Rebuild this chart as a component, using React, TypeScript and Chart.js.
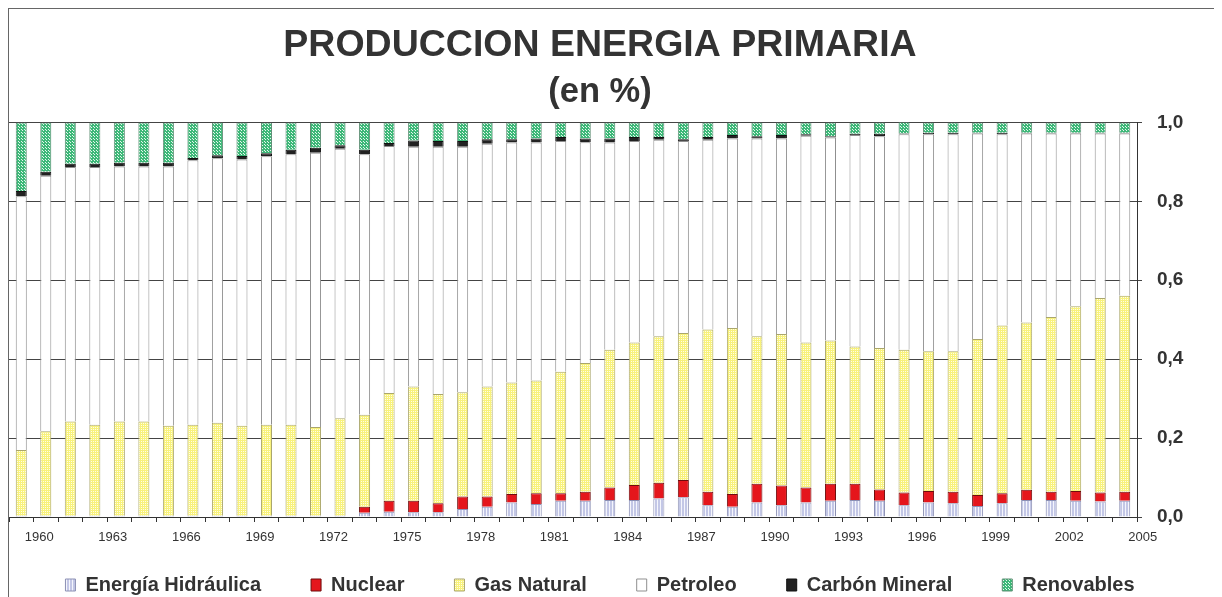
import React, { useEffect, useRef } from 'react';
import { Chart, registerables } from 'chart.js';

Chart.register(...registerables);

const FONT = "'Liberation Sans', Arial, sans-serif";

const years = [
  '1960', '1961', '1962', '1963', '1964', '1965', '1966', '1967', '1968', '1969',
  '1970', '1971', '1972', '1973', '1974', '1975', '1976', '1977', '1978', '1979',
  '1980', '1981', '1982', '1983', '1984', '1985', '1986', '1987', '1988', '1989',
  '1990', '1991', '1992', '1993', '1994', '1995', '1996', '1997', '1998', '1999',
  '2000', '2001', '2002', '2003', '2004', '2005',
];

const shownYears = ['1960', '1963', '1966', '1969', '1972', '1975', '1978', '1981', '1984', '1987', '1990', '1993', '1996', '1999', '2002', '2005'];

const hidraulica = [
  0.003, 0.003, 0.003, 0.003, 0.003, 0.003, 0.003, 0.003, 0.003, 0.003,
  0.003, 0.003, 0.003, 0.003, 0.011, 0.013, 0.012, 0.012, 0.020, 0.026,
  0.037, 0.033, 0.041, 0.041, 0.043, 0.043, 0.047, 0.050, 0.030, 0.026,
  0.037, 0.030, 0.037, 0.041, 0.043, 0.041, 0.030, 0.037, 0.035, 0.028,
  0.035, 0.043, 0.043, 0.041, 0.039, 0.041,
];

const nuclear = [
  0, 0, 0, 0, 0, 0, 0, 0, 0, 0,
  0, 0, 0, 0, 0.015, 0.028, 0.029, 0.023, 0.032, 0.026,
  0.021, 0.027, 0.019, 0.023, 0.032, 0.038, 0.040, 0.044, 0.034, 0.032,
  0.047, 0.050, 0.038, 0.043, 0.041, 0.029, 0.032, 0.029, 0.029, 0.028,
  0.025, 0.026, 0.021, 0.025, 0.023, 0.023,
];

const gasNatural = [
  0.167, 0.214, 0.239, 0.231, 0.239, 0.239, 0.228, 0.231, 0.236, 0.228,
  0.231, 0.231, 0.225, 0.247, 0.233, 0.273, 0.290, 0.277, 0.264, 0.279,
  0.283, 0.286, 0.308, 0.326, 0.349, 0.361, 0.371, 0.372, 0.411, 0.421,
  0.374, 0.384, 0.367, 0.363, 0.348, 0.358, 0.362, 0.354, 0.356, 0.395,
  0.425, 0.424, 0.443, 0.468, 0.493, 0.497,
];

const petroleo = [
  0.643, 0.648, 0.645, 0.653, 0.646, 0.646, 0.657, 0.670, 0.670, 0.675,
  0.680, 0.685, 0.695, 0.683, 0.660, 0.626, 0.607, 0.626, 0.622, 0.615,
  0.608, 0.603, 0.585, 0.560, 0.525, 0.511, 0.498, 0.487, 0.481, 0.480,
  0.501, 0.495, 0.524, 0.515, 0.536, 0.537, 0.546, 0.550, 0.550, 0.521,
  0.485, 0.479, 0.465, 0.438, 0.417, 0.411,
];

const carbonMineral = [
  0.013, 0.010, 0.008, 0.008, 0.010, 0.010, 0.010, 0.006, 0.008, 0.009,
  0.008, 0.012, 0.013, 0.009, 0.012, 0.008, 0.016, 0.015, 0.015, 0.011,
  0.008, 0.010, 0.010, 0.009, 0.010, 0.010, 0.007, 0.004, 0.007, 0.009,
  0.006, 0.009, 0.004, 0.003, 0.003, 0.006, 0.002, 0.004, 0.004, 0.002,
  0.004, 0.002, 0.002, 0.002, 0.002, 0.002,
];

const renovables = [
  0.174, 0.125, 0.105, 0.105, 0.102, 0.102, 0.102, 0.090, 0.083, 0.085,
  0.078, 0.069, 0.064, 0.058, 0.069, 0.052, 0.046, 0.047, 0.047, 0.043,
  0.043, 0.041, 0.037, 0.041, 0.041, 0.037, 0.037, 0.043, 0.037, 0.032,
  0.035, 0.032, 0.030, 0.035, 0.029, 0.029, 0.029, 0.026, 0.026, 0.026,
  0.026, 0.026, 0.026, 0.026, 0.026, 0.026,
];

const yTicks = [0, 0.2, 0.4, 0.6, 0.8, 1.0];

function makePattern(bg: string, fg: string, size: number, dots: number[][]) {
  const c = document.createElement('canvas');
  c.width = size;
  c.height = size;
  const ctx = c.getContext('2d') as CanvasRenderingContext2D;
  ctx.fillStyle = bg;
  ctx.fillRect(0, 0, size, size);
  ctx.fillStyle = fg;
  dots.forEach(([x, y]) => ctx.fillRect(x, y, 1, 1));
  return ctx.createPattern(c, 'repeat') as CanvasPattern;
}

export default function App() {
  const ref = useRef<HTMLCanvasElement | null>(null);

  useEffect(() => {
    document.documentElement.style.overflow = 'hidden';
    document.body.style.overflow = 'hidden';
    if (!ref.current) return;
    const hydroFill = makePattern('#c3c7e6', '#f4f5fc', 3, [[0, 0], [0, 1], [0, 2]]);
    const gasFill = makePattern('#f8f27c', '#fffde6', 2, [[0, 0]]);
    const renovFill = makePattern('#3db878', '#e6f7ee', 3, [[1, 1], [0, 0]]);

    const chart = new Chart(ref.current, {
      type: 'bar',
      data: {
        labels: years,
        datasets: [
          { label: 'Energía Hidráulica', data: hidraulica, backgroundColor: hydroFill, borderColor: '#8c90b4', borderWidth: 1 },
          { label: 'Nuclear', data: nuclear, backgroundColor: '#e5161c', borderColor: '#6e0c0c', borderWidth: 1 },
          { label: 'Gas Natural', data: gasNatural, backgroundColor: gasFill, borderColor: '#aaa66c', borderWidth: 1 },
          { label: 'Petroleo', data: petroleo, backgroundColor: '#ffffff', borderColor: '#8f8f8f', borderWidth: 1 },
          { label: 'Carbón Mineral', data: carbonMineral, backgroundColor: '#222222', borderColor: '#111111', borderWidth: 1 },
          { label: 'Renovables', data: renovables, backgroundColor: renovFill, borderColor: '#5f8f75', borderWidth: 1 },
        ],
      },
      options: {
        animation: false,
        responsive: false,
        layout: { padding: { left: 0, right: 27, top: 0, bottom: 0 } },
        datasets: { bar: { barPercentage: 0.45, categoryPercentage: 1 } },
        plugins: {
          title: {
            display: true,
            text: 'PRODUCCION ENERGIA PRIMARIA',
            color: '#333333',
            font: { family: FONT, size: 37.5, weight: 'bold' },
            padding: { top: 14, bottom: 0 },
          },
          subtitle: {
            display: true,
            text: '(en %)',
            color: '#333333',
            font: { family: FONT, size: 34.5, weight: 'bold' },
            padding: { top: 4, bottom: 9 },
          },
          legend: {
            position: 'bottom',
            maxHeight: 72,
            labels: {
              boxWidth: 10,
              boxHeight: 12,
              padding: 50,
              color: '#333333',
              font: { family: FONT, size: 20, weight: 'bold' },
            },
          },
          tooltip: { enabled: false },
        },
        scales: {
          x: {
            stacked: true,
            afterFit: (axis: any) => {
              axis.height = 8;
              axis.paddingLeft = 0;
              axis.paddingRight = 0;
            },
            grid: { drawOnChartArea: false, drawTicks: true, tickLength: 5, color: '#333333', offset: true },
            border: { display: true, color: '#333333' },
            ticks: {
              autoSkip: false,
              maxRotation: 0,
              minRotation: 0,
              mirror: true,
              labelOffset: 18,
              padding: -27.8,
              color: '#333333',
              font: { family: FONT, size: 13 },
              callback: (_v: any, i: number) => (shownYears.includes(years[i]) ? years[i] : ''),
            },
          },
          y: {
            position: 'right',
            stacked: true,
            min: 0,
            max: 1,
            afterBuildTicks: (axis: any) => {
              axis.ticks = yTicks.map((v) => ({ value: v }));
            },
            afterFit: (axis: any) => {
              axis.width = 54;
            },
            ticks: {
              padding: 15,
              color: '#333333',
              font: { family: FONT, size: 19, weight: 'bold' },
              callback: (v: any) => Number(v).toFixed(1).replace('.', ','),
            },
            grid: { color: '#444444', tickLength: 5, drawTicks: true },
            border: { display: true, color: '#333333' },
          },
        },
      },
    } as any);

    return () => chart.destroy();
  }, []);

  return (
    <div
      style={{
        width: 1209,
        height: 588,
        border: '1px solid #666666',
        borderBottom: 'none',
        background: '#ffffff',
      }}
    >
      <canvas ref={ref} width={1209} height={588} style={{ display: 'block' }} />
    </div>
  );
}
